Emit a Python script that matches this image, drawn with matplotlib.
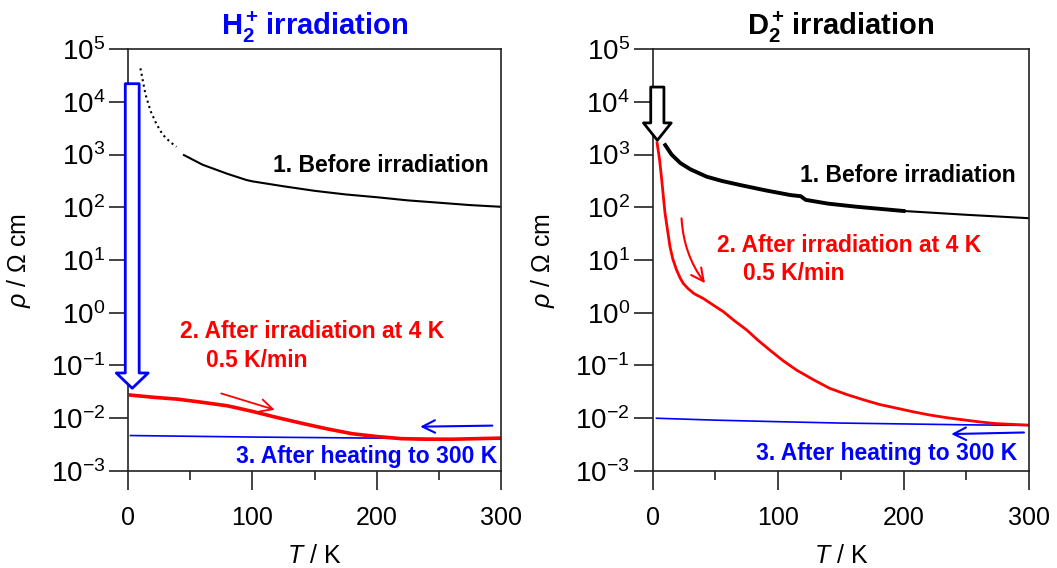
import numpy as np
import matplotlib
matplotlib.use("Agg")
import matplotlib.pyplot as plt
import matplotlib.ticker as mticker

plt.rcParams['font.family'] = 'Liberation Sans'
plt.rcParams['mathtext.fontset'] = 'custom'
plt.rcParams['mathtext.rm'] = 'Liberation Sans'
plt.rcParams['mathtext.it'] = 'Liberation Sans:italic'
plt.rcParams['mathtext.bf'] = 'Liberation Sans:bold'

BLUE = '#0000ff'
RED = '#ff0000'

# --- H2+ panel data (T in K, rho in Ohm cm)
h_before_dot_T = [10, 14, 18, 22, 26, 30, 35, 39]
h_before_dot_rho = [4.3e4, 1.4e4, 6.8e3, 4.2e3, 2.8e3, 2.1e3, 1.65e3, 1.4e3]
h_before_T = [45, 60, 80, 95, 100, 125, 150, 175, 200, 225, 250, 275, 300]
h_before_rho = [975, 640, 430, 330, 310, 250, 205, 175, 155, 135, 122, 110, 102]
h_irr_T = [2, 20, 40, 60, 80, 100, 120, 140, 160, 180, 200, 220, 240, 260, 280, 300]
h_irr_rho = [0.0275, 0.025, 0.023, 0.020, 0.0172, 0.0135, 0.0103, 0.0080, 0.0063,
             0.0051, 0.0045, 0.0041, 0.0040, 0.0040, 0.0041, 0.0042]
h_heat_T = [2, 100, 200, 300]
h_heat_rho = [0.0047, 0.0044, 0.0042, 0.0040]

# --- D2+ panel data
d_before_T = np.array([10, 15, 22, 30, 43, 55, 70, 90, 110, 118, 122, 140, 163, 200, 250, 300])
d_before_rho = np.array([1510, 1000, 690, 525, 380, 316, 263, 209, 170, 162, 138, 117, 102, 85, 72, 62])
d_irr_T = [3.5, 5.5, 7.2, 9.8, 13.8, 16, 19, 22, 24.4, 28, 33, 40.4, 48, 56.3, 65, 75, 84,
           93.5, 104, 115, 128, 141, 155, 168, 181, 194.6, 208, 221, 235, 248, 261, 274, 300]
d_irr_rho = [1660, 790, 330, 78, 17.8, 10.5, 6.5, 4.5, 3.6, 2.9, 2.3, 1.86, 1.41, 1.05, 0.71,
             0.47, 0.30, 0.195, 0.123, 0.081, 0.054, 0.037, 0.028, 0.0224, 0.0182, 0.0155,
             0.0132, 0.0115, 0.0102, 0.0093, 0.0085, 0.0079, 0.0074]
d_heat_T = [3, 50, 100, 150, 200, 250, 300]
d_heat_rho = [0.0100, 0.0092, 0.0086, 0.0081, 0.0078, 0.0075, 0.0073]

fig = plt.figure(figsize=(10.57, 5.68), dpi=100)
ax1 = fig.add_axes([0.1211, 0.1708, 0.3529, 0.7429])
ax2 = fig.add_axes([0.6175, 0.1708, 0.3560, 0.7429])


def style_axes(ax):
    ax.set_yscale('log')
    ax.set_xlim(0, 300)
    ax.set_ylim(1e-3, 1e5)
    ax.yaxis.set_major_locator(mticker.LogLocator(base=10, numticks=10))
    ax.yaxis.set_minor_locator(mticker.NullLocator())
    ax.xaxis.set_major_locator(mticker.MultipleLocator(100))
    ax.xaxis.set_minor_locator(mticker.MultipleLocator(50))
    ax.tick_params(axis='both', which='major', direction='out', length=13.5, width=1.2,
                   color='#222222')
    ax.tick_params(axis='x', which='minor', direction='out', length=6.5, width=1.2, color='#222222')
    ax.tick_params(axis='x', which='major', pad=12, labelsize=18)
    ax.tick_params(axis='y', which='major', pad=3, labelsize=20)
    for s in ax.spines.values():
        s.set_linewidth(1.2)
        s.set_color('#222222')
    ax.set_xlabel(r'$T$ / K', fontsize=18, labelpad=10)
    ax.set_ylabel(r'$\rho$ / Ω cm', fontsize=18, labelpad=13)


style_axes(ax1)
style_axes(ax2)

# left panel
ax1.plot(h_before_dot_T, h_before_dot_rho, ':', color='black', lw=1.5)
ax1.plot(h_before_T, h_before_rho, '-', color='black', lw=1.5)
ax1.plot(h_heat_T, h_heat_rho, '-', color=BLUE, lw=1.2)
ax1.plot(h_irr_T, h_irr_rho, '-', color=RED, lw=2.6)

ax1.annotate('', xy=(3.4, 0.037), xytext=(3.4, 2.2e4), annotation_clip=False,
             arrowprops=dict(arrowstyle='simple,head_length=1.1,head_width=2.3,tail_width=1.0',
                             fc='white', ec=BLUE, lw=2, mutation_scale=10, shrinkA=0, shrinkB=0))
ax1.annotate('', xy=(118, 10**-1.84), xytext=(75, 10**-1.53),
             arrowprops=dict(arrowstyle='->,head_length=0.6,head_width=0.3', color=RED, lw=1.3,
                             mutation_scale=15, shrinkA=0, shrinkB=0))
ax1.annotate('', xy=(235, 10**-2.16), xytext=(293, 10**-2.14),
             arrowprops=dict(arrowstyle='->,head_length=0.6,head_width=0.3', color=BLUE, lw=1.5,
                             mutation_scale=15, shrinkA=0, shrinkB=0))

ax1.text(290, 10**2.8, '1. Before irradiation', ha='right', va='center', fontsize=16.5,
         fontweight='bold', color='black')
ax1.text(42, 10**-0.36, '2. After irradiation at 4 K', ha='left', va='center', fontsize=16.5,
         fontweight='bold', color=RED)
ax1.text(62.5, 10**-0.9, '0.5 K/min', ha='left', va='center', fontsize=16.5,
         fontweight='bold', color=RED)
ax1.text(297, 10**-2.73, '3. After heating to 300 K', ha='right', va='center', fontsize=16.5,
         fontweight='bold', color=BLUE)
ax1.set_title(r'$\mathbf{H_2^+}\,$irradiation', fontsize=21, fontweight='bold', color=BLUE, pad=10)

# right panel
thick = d_before_T <= 200
thin = d_before_T >= 200
ax2.plot(d_before_T[thick], d_before_rho[thick], '-', color='black', lw=2.8)
ax2.plot(d_before_T[thin], d_before_rho[thin], '-', color='black', lw=1.5)
ax2.plot(d_heat_T, d_heat_rho, '-', color=BLUE, lw=1.2)
ax2.plot(d_irr_T, d_irr_rho, '-', color=RED, lw=2.0)

ax2.annotate('', xy=(3.7, 10**3.27), xytext=(3.7, 1.9e4), annotation_clip=False,
             arrowprops=dict(arrowstyle='simple,head_length=1.25,head_width=2.0,tail_width=0.95',
                             fc='white', ec='black', lw=2, mutation_scale=10, shrinkA=0, shrinkB=0))
ax2.annotate('', xy=(41.7, 10**0.56), xytext=(23, 10**1.79),
             arrowprops=dict(arrowstyle='->,head_length=0.6,head_width=0.3', color=RED, lw=1.5,
                             mutation_scale=15, shrinkA=0, shrinkB=0,
                             connectionstyle='arc3,rad=0.15'))
ax2.annotate('', xy=(238, 10**-2.30), xytext=(296, 10**-2.27),
             arrowprops=dict(arrowstyle='->,head_length=0.6,head_width=0.3', color=BLUE, lw=1.5,
                             mutation_scale=15, shrinkA=0, shrinkB=0))

ax2.text(289, 10**2.61, '1. Before irradiation', ha='right', va='center', fontsize=16.5,
         fontweight='bold', color='black')
ax2.text(51, 10**1.28, '2. After irradiation at 4 K', ha='left', va='center', fontsize=16.5,
         fontweight='bold', color=RED)
ax2.text(72, 10**0.75, '0.5 K/min', ha='left', va='center', fontsize=16.5,
         fontweight='bold', color=RED)
ax2.text(291, 10**-2.66, '3. After heating to 300 K', ha='right', va='center', fontsize=16.5,
         fontweight='bold', color=BLUE)
ax2.set_title(r'$\mathbf{D_2^+}\,$irradiation', fontsize=21, fontweight='bold', color='black', pad=10)

fig.savefig('out.png', dpi=100)
